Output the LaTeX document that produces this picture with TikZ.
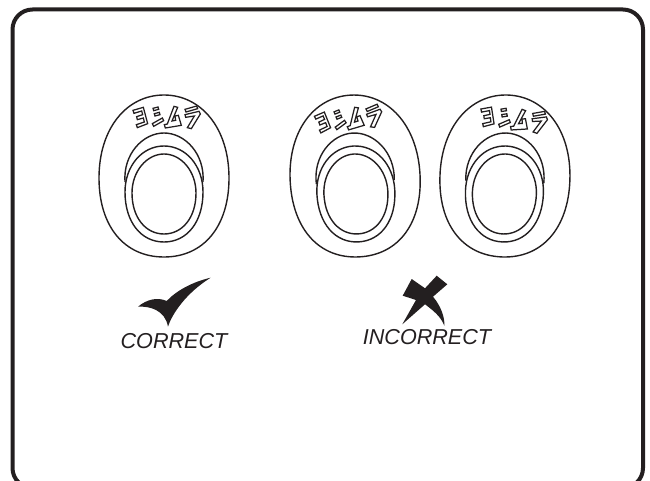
\documentclass[tikz,border=0pt]{standalone}
\usepackage{fontspec}
\setmainfont{Liberation Sans}
\definecolor{ink}{HTML}{231F20}
\tikzset{
  frameline/.style={draw=ink,line width=4pt},
  ovalline/.style={draw=ink,line width=1.4pt,line join=round},
  glyphline/.style={draw=ink,line width=1.25pt,line join=miter},
  markfill/.style={fill=ink,draw=none},
  caption/.style={font=\fontsize{21.6pt}{24pt}\selectfont\itshape,text=ink,inner sep=0pt}
}
\newcommand{\emblem}[4]{%
  \begin{scope}[shift={(#1,176)},rotate=#3]
    \draw[ovalline] (0,-81) .. controls (37,-81) and (65,-48) .. (65,2) .. controls (65,50) and (40,81) .. (0,81) .. controls (-40,81) and (-65,50) .. (-65,2) .. controls (-65,-48) and (-37,-81) .. (0,-81) -- cycle;
    \draw[ovalline] (-39,6) .. controls (-41,-22) and (-21,-43) .. (0,-43) .. controls (21,-43) and (41,-22) .. (39,6);
    \draw[ovalline] (0,-30) .. controls (22,-30) and (39,-10) .. (39,16) .. controls (39,46) and (23,66) .. (0,66) .. controls (-23,66) and (-39,46) .. (-39,16) .. controls (-39,-10) and (-22,-30) .. (0,-30) -- cycle;
    \draw[ovalline] (0,-22) .. controls (17,-22) and (32,-5) .. (32,17) .. controls (32,42) and (18,58) .. (0,58) .. controls (-18,58) and (-32,42) .. (-32,17) .. controls (-32,-5) and (-17,-22) .. (0,-22) -- cycle;
  \end{scope}
  \begin{scope}[shift={(#2)},rotate=#4,x=.3333pt,y=-.3333pt,shift={(-120,-65)}]
    \draw[glyphline] (24,45) -- (55,36) -- (68,85) -- (37,97) -- (34,88) -- (58,80) -- (55,68) -- (37,73) -- (35,64) -- (53,58) -- (50,47) -- (27,54) -- cycle;
    \draw[glyphline] (84,39) -- (99,35) -- (101,42) -- (86,46) -- cycle;
    \draw[glyphline] (88,55) -- (103,51) -- (105,58) -- (90,62) -- cycle;
    \draw[glyphline] (82,85) -- (112,68) -- (116,76) -- (86,93) -- cycle;
    \draw[glyphline] (147,33) -- (158,36) -- (141,77) -- (152,75) -- (150,62) -- (160,60) -- (169,90) -- (121,98) -- (118,88) -- (127,86) -- cycle;
    \draw[glyphline] (180,42) -- (215,32) -- (218,40) -- (183,50) -- cycle;
    \draw[glyphline] (180,58) -- (222,48) -- (226,56) -- (199,100) -- (187,97) -- (208,62) -- (182,66) -- cycle;
  \end{scope}%
}
\begin{document}
\begin{tikzpicture}[x=1pt,y=-1pt]
  \useasboundingbox (0,0) rectangle (650,481);
  \draw[frameline,rounded corners=20pt] (12.5,9.5) rectangle (643,488);
  \emblem{164}{165,117}{0}{0}
  \emblem{355}{347,119}{3}{7}
  \emblem{505}{512,119}{-2}{-6}
  \fill[markfill] (210.7,277.7) .. controls (192,282) and (176,291) .. (166.7,301) .. controls (158,297) and (147,299) .. (138,306.7) .. controls (150,306) and (165,310) .. (168,326.7) .. controls (172,314) and (186,293) .. (210.7,277.7) -- cycle;
  \fill[markfill] (411.7,279) -- (402.7,295.7) -- (416,300) -- (402.3,324.3) -- (425,304.3) .. controls (434,311) and (441,317) .. (444.3,325.7) .. controls (445,318) and (441,306) .. (433,296.7) -- (447.3,284.3) -- (436.7,275.7) -- (425,288.3) -- cycle;
  \node[caption] (correct) at (174,341) {CORRECT};
  \node[caption] (incorrect) at (427,337) {INCORRECT};
\end{tikzpicture}
\end{document}
